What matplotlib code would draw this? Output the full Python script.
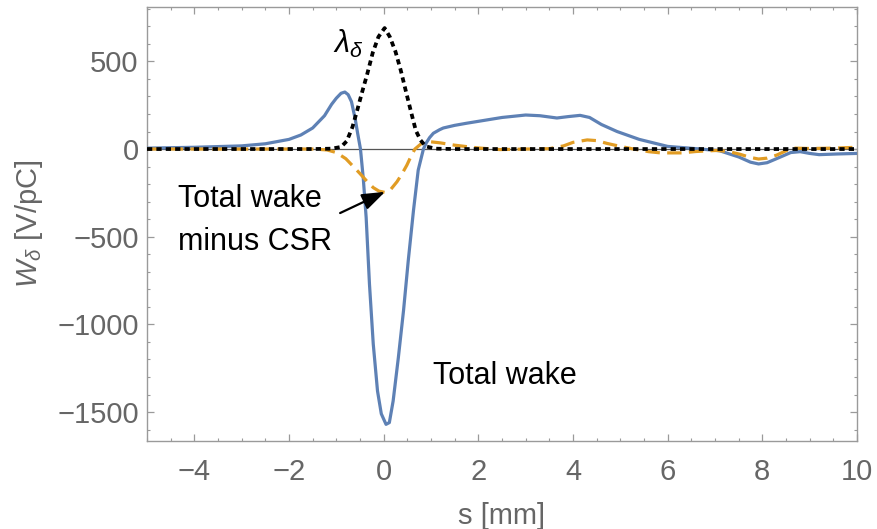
import numpy as np
import matplotlib
matplotlib.use("Agg")
import matplotlib.pyplot as plt
from matplotlib.ticker import MultipleLocator

# Data
# total wake (solid blue)
s_total = [-5.0, -4.0, -3.0, -2.5, -2.0, -1.75, -1.5, -1.25, -1.1, -1.0, -0.9, -0.82,
           -0.75, -0.68, -0.6, -0.55, -0.49, -0.43, -0.37, -0.30, -0.22, -0.13, -0.05,
           0.05, 0.12, 0.2, 0.31, 0.42, 0.52, 0.63, 0.73, 0.84, 0.9, 0.97, 1.05, 1.18,
           1.26, 1.5, 1.75, 2.0, 2.5, 3.0, 3.3, 3.66, 3.9, 4.15, 4.35, 4.6, 4.93, 5.4,
           6.0, 6.7, 7.1, 7.5, 7.75, 7.92, 8.1, 8.3, 8.6, 8.8, 9.0, 9.2, 9.6, 10.0]
w_total = [5, 10, 18, 30, 55, 80, 120, 190, 255, 290, 318, 325,
           310, 270, 170, 90, 0, -170, -390, -770, -1112, -1380, -1510,
           -1570, -1560, -1437, -1190, -920, -635, -350, -120, 0, 35, 65, 90, 110,
           120, 135, 147, 158, 180, 194, 190, 177, 185, 192, 180, 140, 100, 55,
           15, 0, -10, -45, -75, -85, -78, -55, -20, -15, -25, -32, -28, -25]

# total wake minus CSR (dashed orange)
s_nocsr = [-5.0, -2.0, -1.5, -1.2, -1.0, -0.8, -0.64, -0.5, -0.35, -0.22, -0.1, 0.02,
           0.15, 0.28, 0.38, 0.49, 0.58, 0.66, 0.8, 0.97, 1.2, 1.5, 1.75, 2.0, 2.46,
           3.0, 3.5, 3.8, 4.0, 4.3, 4.5, 4.72, 5.0, 5.28, 5.6, 5.85, 6.3, 6.6, 7.04,
           7.3, 7.53, 7.75, 7.92, 8.1, 8.3, 8.5, 8.7, 9.0, 9.5, 10.0]
w_nocsr = [0, 0, 0, -5, -20, -55, -100, -140, -185, -220, -240, -247,
           -230, -187, -145, -92, -40, 0, 32, 42, 35, 22, 14, 6, -3,
           0, 2, 18, 38, 52, 48, 32, 15, 0, -15, -22, -22, -14, -8,
           -15, -30, -48, -57, -52, -35, -10, 5, 3, 5, 10]

# bunch distribution lambda (dotted black)
s_lam = [-5.0, -1.5, -1.1, -0.9, -0.78, -0.66, -0.56, -0.45, -0.35, -0.23, -0.11, 0.02,
         0.13, 0.25, 0.36, 0.46, 0.58, 0.68, 0.78, 0.89, 1.1, 1.5, 10.0]
w_lam = [0, 0, 2, 12, 45, 125, 220, 330, 425, 550, 640, 690,
         640, 555, 450, 340, 210, 105, 50, 15, 2, 0, 0]

x_ticks = [-4, -2, 0, 2, 4, 6, 8, 10]
y_ticks = [-1500, -1000, -500, 0, 500]

plt.rcParams['font.family'] = ['Liberation Sans', 'DejaVu Sans']
plt.rcParams['mathtext.fontset'] = 'custom'
plt.rcParams['mathtext.rm'] = 'Liberation Sans'
plt.rcParams['mathtext.it'] = 'Liberation Sans:italic'

gray = '#666666'
frame = '#9a9a9a'

fig = plt.figure(figsize=(8.78, 5.29), dpi=100)
ax = fig.add_axes([147 / 878, 1 - 441 / 529, 710 / 878, 434 / 529])

ax.axhline(0, color='#555555', lw=0.9, zorder=1)
ax.plot(s_total, w_total, color='#5E81B5', lw=2.3, zorder=3)
ax.plot(s_nocsr, w_nocsr, color='#E19C24', lw=2.3, dashes=(4.5, 2.3), zorder=4)
ax.plot(s_lam, w_lam, color='black', lw=2.7, dashes=(1.4, 1.1), zorder=5)

ax.set_xlim(-5, 10)
ax.set_ylim(-1665, 810)
ax.set_xticks(x_ticks)
ax.set_yticks(y_ticks)
ax.set_yticklabels(['\u22121500', '\u22121000', '\u2212500', '0', '500'])
ax.set_xticklabels(['\u22124', '\u22122', '0', '2', '4', '6', '8', '10'])
ax.xaxis.set_minor_locator(MultipleLocator(0.5))
ax.yaxis.set_minor_locator(MultipleLocator(100))

ax.tick_params(which='both', direction='in', top=True, right=True,
               color=frame, labelsize=21, labelcolor=gray)
ax.tick_params(which='major', length=5, width=0.9)
ax.tick_params(which='minor', length=2.5, width=0.8)
ax.tick_params(axis='x', pad=12)
ax.tick_params(axis='y', pad=6)
for sp in ax.spines.values():
    sp.set_color(frame)
    sp.set_linewidth(1.0)

ax.set_xlabel('s [mm]', fontsize=21, color=gray, labelpad=12)
ax.set_ylabel(r'$W_\delta$ [V/pC]', fontsize=21, color=gray, labelpad=9)

# annotations
ax.text(-1.07, 550, r'$\lambda_\delta$', fontsize=22, color='black', va='baseline')
ax.text(-4.345, -332, 'Total wake', fontsize=22, color='black', va='baseline')
ax.text(-4.345, -578, 'minus CSR', fontsize=22, color='black', va='baseline')
ax.text(1.04, -1339, 'Total wake', fontsize=22, color='black', va='baseline')
ax.annotate('', xy=(0.03, -244), xytext=(-0.92, -365),
            arrowprops=dict(arrowstyle='-|>,head_length=0.7,head_width=0.25',
                            color='black', lw=1.6, mutation_scale=20,
                            shrinkA=0, shrinkB=0), zorder=6)

fig.savefig('out.png', dpi=100)
